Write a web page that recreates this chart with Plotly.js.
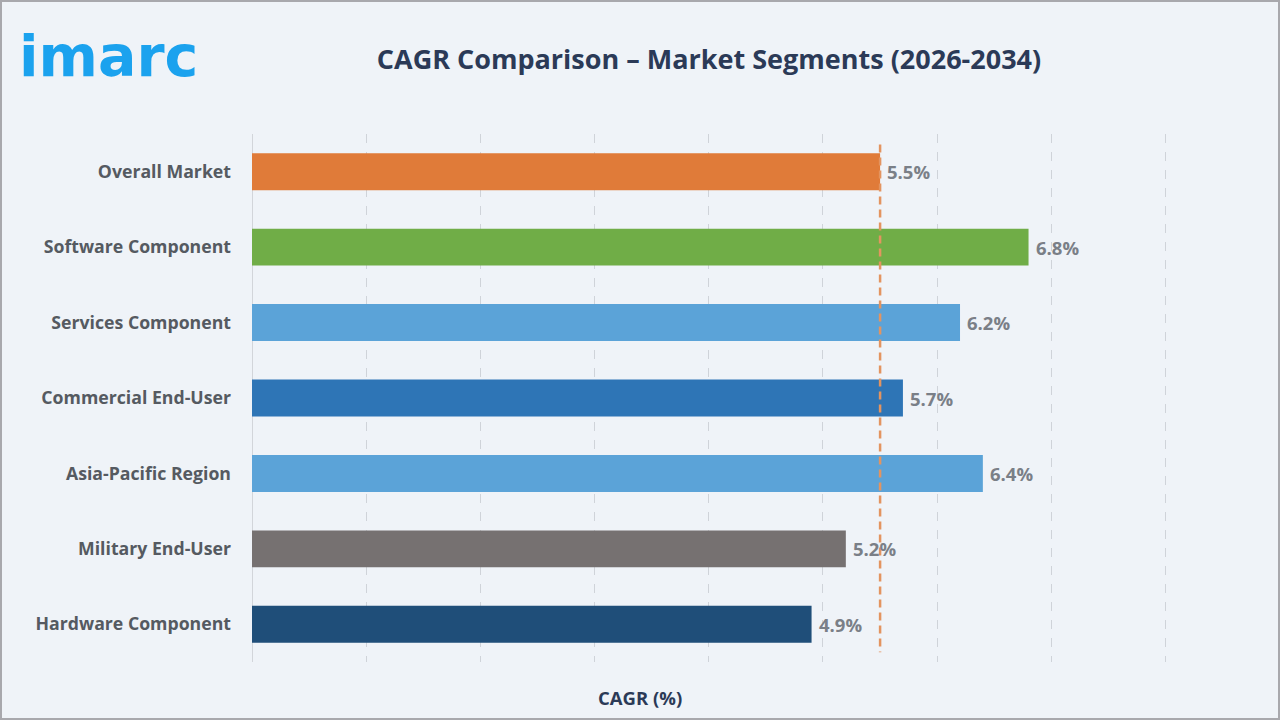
<!DOCTYPE html>
<html>
<head>
<meta charset="utf-8">
<script src="https://cdn.plot.ly/plotly-3.0.1.min.js"></script>
<style>
html,body{margin:0;padding:0;background:#a8a8ad;}
#wrap{position:absolute;left:0;top:0;width:1276px;height:716px;border:2px solid #a8a8ad;background:#eff3f8;}
#chart{width:1276px;height:716px;}
</style>
</head>
<body>
<div id="wrap"><div id="chart"></div></div>
<script>
const categories = ["Overall Market","Software Component","Services Component","Commercial End-User","Asia-Pacific Region","Military End-User","Hardware Component"];
const cagrValues = [5.5, 6.8, 6.2, 5.7, 6.4, 5.2, 4.9];
const barColors = ["#e07b39","#70ad47","#5ba3d8","#2e75b6","#5ba3d8","#767171","#1f4e79"];
const valueLabels = ["5.5%","6.8%","6.2%","5.7%","6.4%","5.2%","4.9%"];
const overallCagr = 5.5;

const W = 1276, H = 716, ML = 250, MT = 131.75, MB = 55.75;
const XMAX = 8.1;
const PW = 914 / 8 * XMAX, MR = W - ML - PW, PH = H - MT - MB;

const trace = {
  type: 'bar',
  orientation: 'h',
  y: categories,
  x: cagrValues,
  marker: {color: barColors},
  width: 0.49,
  hoverinfo: 'none'
};

const annotations = categories.map((c, i) => ({
  x: cagrValues[i], y: c, xref: 'x', yref: 'y',
  text: valueLabels[i], showarrow: false, xanchor: 'left', xshift: 5,
  font: {family: 'Open Sans', size: 18.5, color: '#7a7f87', weight: 700}
}));
annotations.push({
  xref: 'paper', yref: 'paper', x: (15 - ML) / PW, y: 1 + (MT - 54) / PH, xanchor: 'left', yanchor: 'middle',
  text: 'imarc', showarrow: false,
  font: {family: 'DejaVu Sans', size: 57, color: '#1ba2ee', weight: 700}
});
annotations.push({
  xref: 'paper', yref: 'paper', x: (638 - ML) / PW, y: -(696 - (H - MB)) / PH, xanchor: 'center', yanchor: 'middle',
  text: 'CAGR (%)', showarrow: false,
  font: {family: 'Open Sans', size: 18.5, color: '#2b3a57', weight: 700}
});

const layout = {
  width: W, height: H,
  paper_bgcolor: 'rgba(0,0,0,0)', plot_bgcolor: 'rgba(0,0,0,0)',
  margin: {l: ML, r: MR, t: MT, b: MB},
  showlegend: false,
  title: {text: 'CAGR Comparison – Market Segments (2026-2034)', x: 707 / W, xanchor: 'center', y: 1 - 58 / H, yanchor: 'middle',
    font: {family: 'Open Sans', size: 27, color: '#2b3a57', weight: 700}},
  xaxis: {range: [0, XMAX], dtick: 1, tick0: 0, showticklabels: false, ticks: '',
    showgrid: true, gridcolor: '#cfd3d9', griddash: 'dash', gridwidth: 1,
    zeroline: true, zerolinecolor: '#d2d5da', zerolinewidth: 1, showline: false, fixedrange: true},
  yaxis: {type: 'category', autorange: 'reversed', range: [6.5, -0.5], showgrid: false, zeroline: false,
    ticks: '', ticklen: 0, ticklabelstandoff: 20,
    tickfont: {family: 'Open Sans', size: 17.7, color: '#555a61', weight: 700}},
  shapes: [{type: 'line', xref: 'x', yref: 'y', x0: overallCagr, x1: overallCagr, y0: -0.36, y1: 6.37,
    line: {color: '#e39460', width: 2.5, dash: '8px,5px'}, layer: 'above'}],
  annotations: annotations
};

Plotly.newPlot('chart', [trace], layout, {displayModeBar: false, staticPlot: true});
</script>
</body>
</html>
